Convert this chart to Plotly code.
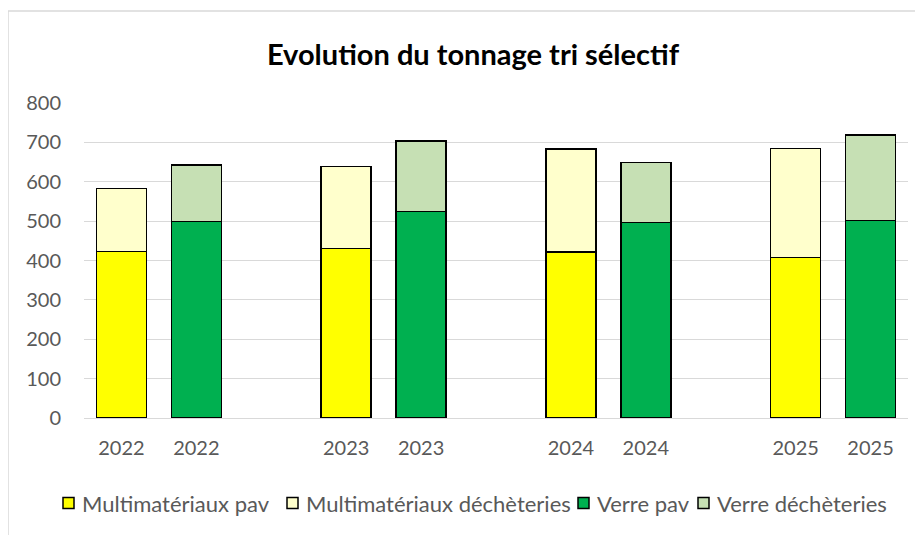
import plotly.graph_objects as go

years = ["2022", "2023", "2024", "2025"]

multi_pav = [423, 430, 421, 408]
multi_dech = [160, 209, 262, 277]
verre_pav = [499, 525, 496, 502]
verre_dech = [144, 178, 153, 217]

FONT = "Lato"
GRID = "#d9d9d9"
TXT = "#595959"

# page body adds ~8px offset, so positions below are shifted by it
OFF = 8
L, R, T, B = 84 - OFF, 923 - (908 - OFF), 103 - OFF, 535 - (418 - OFF)
PW, PH = 923 - L - R, 535 - T - B


def px(xpix):
    return (xpix - OFF - L) / PW


def py(ypix):
    return (535 - B - (ypix - OFF)) / PH


# two bars per year, then one empty slot
x_multi = [3 * i for i in range(len(years))]
x_verre = [3 * i + 1 for i in range(len(years))]
tick_pos = sorted(x_multi + x_verre)
tick_txt = [years[p // 3] for p in tick_pos]

series = [
    ("Multimatériaux pav", x_multi, multi_pav, "#FFFF00"),
    ("Multimatériaux déchèteries", x_multi, multi_dech, "#FFFFCC"),
    ("Verre pav", x_verre, verre_pav, "#00B050"),
    ("Verre déchèteries", x_verre, verre_dech, "#C6E0B4"),
]

fig = go.Figure()
for name, xs, ys, col in series:
    fig.add_trace(go.Bar(
        x=xs, y=ys, name=name, width=0.667, showlegend=False,
        marker=dict(color=col, line=dict(color="black", width=1.5)),
    ))

fig.update_layout(
    width=923, height=535,
    margin=dict(l=L, r=R, t=T, b=B),
    barmode="stack",
    plot_bgcolor="white", paper_bgcolor="white",
    font=dict(family=FONT, size=20, color=TXT),
    title=dict(
        text="<b>Evolution du tonnage tri sélectif</b>",
        font=dict(family=FONT, size=29, color="black"),
        x=(473 - OFF) / 923, xanchor="center", xref="container",
        y=1 - (55 - OFF) / 535, yanchor="middle", yref="container",
    ),
)

fig.update_xaxes(
    range=[-0.5, 10.5], tickvals=tick_pos, ticktext=tick_txt,
    showgrid=False, showline=True, linecolor=GRID, linewidth=1,
    ticks="", ticklabelstandoff=12, zeroline=False,
)
fig.update_yaxes(
    range=[0, 800], dtick=100, showgrid=True, gridcolor=GRID, gridwidth=1,
    zeroline=False, showline=False, ticks="", ticklabelstandoff=22,
)

# compact Excel-like legend: small bordered squares + labels
legend_x = [63, 287, 578, 698]
legend_y = 503
for (name, _, _, col), lx in zip(series, legend_x):
    fig.add_shape(
        type="rect", xref="paper", yref="paper",
        x0=px(lx), x1=px(lx + 11), y0=py(legend_y + 5.5), y1=py(legend_y - 5.5),
        line=dict(color="black", width=1.5), fillcolor=col,
    )
    fig.add_annotation(
        xref="paper", yref="paper", x=px(lx + 17), y=py(legend_y),
        xanchor="left", yanchor="middle", showarrow=False,
        text=name, font=dict(family=FONT, size=22, color=TXT),
    )

# chart-area border
fig.add_shape(
    type="rect", xref="paper", yref="paper",
    x0=px(8), x1=px(950), y0=py(560), y1=py(11),
    line=dict(color=GRID, width=1.5), fillcolor="rgba(0,0,0,0)", layer="below",
)

fig.write_html("out.html")
